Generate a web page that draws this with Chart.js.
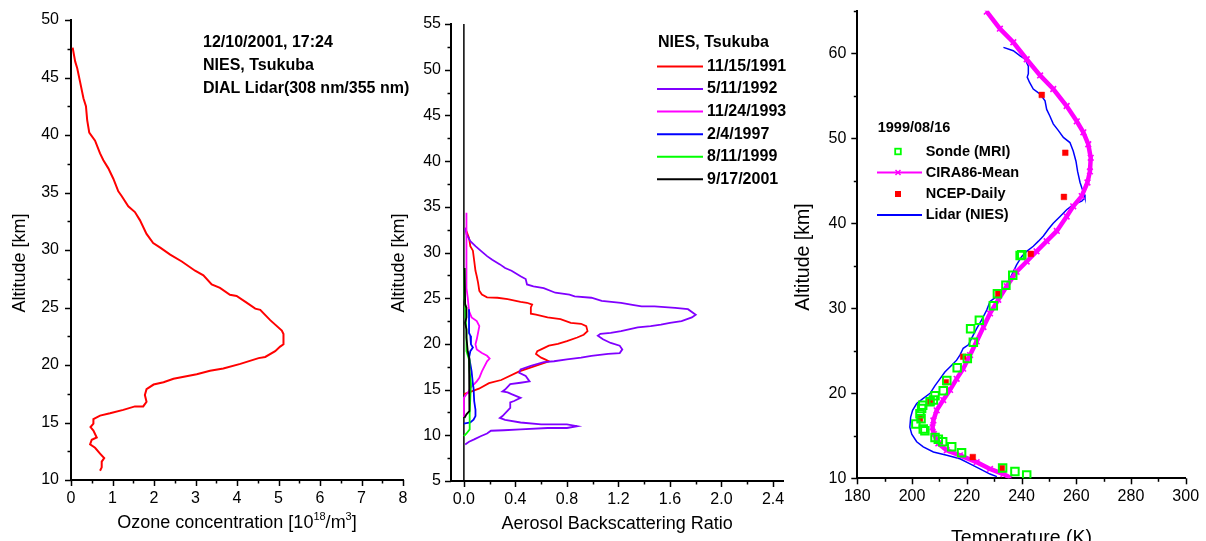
<!DOCTYPE html>
<html><head><meta charset="utf-8">
<script src="https://cdn.jsdelivr.net/npm/chart.js@4.4.1/dist/chart.umd.min.js"></script>
<style>
html,body{margin:0;padding:0;background:#fff;width:1206px;height:541px;overflow:hidden;position:relative}
canvas{position:absolute;top:0}
</style></head><body>
<canvas id="c1" width="425" height="541" style="left:0px"></canvas>
<canvas id="c2" width="420" height="541" style="left:380px"></canvas>
<canvas id="c3" width="426" height="541" style="left:780px"></canvas>
<script>
// ---------------- Panel 1: ozone ----------------
const ozoneConc = [0.04,0.10,0.15,0.22,0.30,0.36,0.39,0.44,0.58,0.70,0.78,0.90,1.02,1.14,1.22,1.38,1.54,1.66,1.82,1.98,2.15,2.39,2.67,2.99,3.19,3.39,3.59,3.83,3.99,4.24,4.44,4.56,4.80,5.08,5.12,5.12,5.04,4.92,4.68,4.52,4.08,3.67,3.35,3.03,2.47,2.23,1.99,1.82,1.78,1.82,1.74,1.54,1.26,0.94,0.70,0.54,0.54,0.47,0.54,0.62,0.50,0.46,0.58,0.70,0.80,0.74,0.74,0.70];
const ozoneAlt = [47.6,46.4,45.8,44.6,43.2,42.5,41.3,40.2,39.5,38.4,37.8,37.1,36.2,35.1,34.7,33.8,33.3,32.6,31.4,30.6,30.2,29.6,29.0,28.2,27.8,27.0,26.7,26.1,26.0,25.4,24.9,24.8,23.9,23.0,22.7,21.8,21.6,21.2,20.7,20.6,20.1,19.7,19.5,19.2,18.8,18.5,18.3,17.9,17.4,16.8,16.4,16.4,16.1,15.8,15.6,15.3,14.9,14.6,14.3,13.7,13.5,13.1,12.8,12.3,11.9,11.6,11.1,10.8];
const ozoneXTicks = [0,1,2,3,4,5,6,7,8];
const ozoneYTicks = [10,15,20,25,30,35,40,45,50];
const ozoneNotes = ['12/10/2001, 17:24','NIES, Tsukuba','DIAL Lidar(308 nm/355 nm)'];

// ---------------- Panel 2: aerosol ----------------
const aeroLabels = ['11/15/1991','5/11/1992','11/24/1993','2/4/1997','8/11/1999','9/17/2001'];
const aeroColors = ['#ff0000','#8000ff','#ff00ff','#0000ff','#00ff00','#000000'];
const red1991X = [0.01,0.04,0.05,0.07,0.08,0.09,0.10,0.11,0.12,0.14,0.18,0.26,0.34,0.44,0.49,0.53,0.52,0.52,0.56,0.65,0.75,0.83,0.91,0.95,0.96,0.93,0.88,0.80,0.73,0.66,0.60,0.57,0.56,0.60,0.63,0.66,0.43,0.29,0.195,0.117,0.04,0.0];
const red1991Alt = [32.7,31.6,30.7,30.2,29.1,28.0,27.4,26.7,25.8,25.4,25.1,25.05,24.9,24.6,24.5,24.3,24.0,23.3,23.2,22.9,22.7,22.3,22.2,21.95,21.4,21.0,20.7,20.3,20.0,19.8,19.4,19.2,18.9,18.5,18.3,18.1,17.0,16.05,15.7,15.1,14.7,14.5];
const pur1992X = [0.01,0.02,0.05,0.09,0.13,0.18,0.22,0.28,0.32,0.37,0.44,0.48,0.49,0.54,0.62,0.71,0.82,0.86,0.99,1.07,1.22,1.32,1.38,1.48,1.64,1.74,1.80,1.77,1.69,1.60,1.53,1.45,1.35,1.22,1.14,1.06,1.04,1.08,1.14,1.21,1.23,1.21,1.12,0.99,0.91,0.80,0.70,0.62,0.52,0.44,0.43,0.48,0.51,0.44,0.36,0.32,0.30,0.34,0.37,0.44,0.39,0.36,0.36,0.34,0.30,0.28,0.32,0.44,0.60,0.80,0.88,0.80,0.65,0.44,0.31,0.21,0.18,0.13,0.08,0.04,0.01];
const pur1992Alt = [32.7,32.0,31.25,30.7,30.2,29.6,29.2,28.7,28.3,28.0,27.4,27.1,26.5,26.3,26.1,25.6,25.4,25.2,25.05,24.7,24.5,24.25,24.1,24.1,23.95,23.8,23.2,22.9,22.5,22.3,22.1,21.95,21.8,21.4,21.2,21.1,20.9,20.5,20.1,19.8,19.4,19.0,18.9,18.7,18.5,18.3,18.1,18.0,17.6,17.2,16.85,16.5,15.9,15.75,15.6,15.0,14.8,14.7,14.5,14.1,13.75,13.6,13.0,12.7,12.1,11.9,11.7,11.4,11.2,11.2,11.0,10.8,10.8,10.65,10.55,10.5,10.2,9.9,9.55,9.3,9.0];
const mag1993X = [0.02,0.02,0.02,0.02,0.02,0.03,0.04,0.06,0.10,0.12,0.11,0.10,0.09,0.10,0.14,0.18,0.20,0.18,0.14,0.12,0.10,0.08,0.05,0.04,0.02,0.0,0.0];
const mag1993Alt = [34.35,32.7,30.2,27.2,26.1,25.05,23.6,22.9,22.5,21.95,21.2,20.5,19.95,19.4,19.0,18.7,18.4,18.1,17.0,16.3,15.9,15.6,15.2,14.85,14.5,14.1,12.0];
const blue1997X = [0.04,0.04,0.04,0.05,0.055,0.07,0.05,0.04,0.05,0.06,0.07,0.075,0.08,0.09,0.09,0.075,0.05,0.01,0.0];
const blue1997Alt = [23.8,22.1,21.2,20.9,19.95,19.6,19.2,18.5,17.8,17.0,15.6,15.2,13.75,12.8,12.1,11.7,11.4,11.3,11.3];
const green1999X = [0.005,0.005,0.01,0.013,0.02,0.02,0.04,0.044,0.055,0.05,0.045,0.045,0.02,0.0];
const green1999Alt = [28.3,25.0,24.3,22.9,21.4,19.2,18.3,17.0,15.6,14.1,12.3,10.65,10.2,9.9];
const black2001X = [0.005,0.01,0.02,0.02,0.01,0.02,0.02,0.03,0.04,0.044,0.044,0.04,0.02,0.005];
const black2001Alt = [28.3,24.3,23.95,22.9,22.3,21.6,20.7,19.2,18.5,16.3,13.4,12.65,12.3,11.9];
const zeroLineX = [0,0];
const zeroLineAlt = [5,55];
const aeroXTicks = [0.0,0.4,0.8,1.2,1.6,2.0,2.4];
const aeroYTicks = [5,10,15,20,25,30,35,40,45,50,55];

// ---------------- Panel 3: temperature ----------------
const ciraT = [227.3,232.1,237.0,241.9,246.8,251.6,256.5,260.2,262.6,264.4,265.3,265.0,264.1,262.0,258.9,256.5,252.9,249.2,245.5,241.9,238.2,234.6,231.5,228.5,226.1,223.6,221.2,218.7,216.3,213.9,211.4,209.0,207.8,207.5,208.0,209.6,212.7,217.5,223.6,228.5,233.4,235.8];
const ciraAlt = [64.9,62.9,61.3,59.3,57.4,55.8,53.8,52.0,50.7,49.3,47.7,46.1,44.8,43.2,42.0,40.8,39.1,37.9,36.7,35.5,34.3,32.6,31.0,29.4,27.8,26.1,24.5,22.9,21.7,20.4,19.2,18.0,16.8,16.0,15.2,14.1,13.3,12.7,11.9,11.1,10.5,10.1];
const lidarT = [233.4,237.0,239.5,241.3,242.5,242.5,242.1,242.9,244.3,246.8,248.6,249.2,250.4,251.6,253.5,255.3,257.7,258.9,259.9,260.5,261.4,262.0,262.9,263.2,262.0,258.9,256.5,254.1,251.6,249.8,248.0,246.2,244.3,241.9,240.1,238.2,235.8,233.4,231.0,228.5,227.3,225.4,223.6,221.8,220.6,218.7,217.5,216.3,214.5,212.0,210.2,208.4,206.6,204.1,201.7,200.2,199.5,199.2,199.9,201.7,204.1,207.8,212.7,217.5,221.2,224.8,228.5,231.0];
const lidarAlt = [60.7,60.3,59.7,59.3,58.5,57.6,57.2,56.6,55.8,55.2,54.4,53.4,52.6,51.7,50.9,50.1,49.5,48.5,47.3,46.1,44.8,44.2,43.4,43.0,42.6,42.2,41.6,40.8,40.0,39.3,38.5,37.9,37.3,36.7,36.1,35.1,33.5,32.2,31.4,30.8,29.8,28.6,27.6,26.5,25.7,25.3,24.5,23.9,23.3,22.5,21.7,20.9,20.0,19.4,18.8,18.0,17.2,16.0,15.2,14.3,13.7,13.1,12.7,12.3,11.7,11.1,10.5,10.2];
const sondeT = [240.1,239.5,236.8,234.3,231.2,229.7,224.6,221.4,222.4,220.2,216.5,212.7,211.4,208.4,207.8,206.6,203.9,203.5,202.9,203.3,201.4,204.1,204.7,208.4,209.6,211.2,214.5,218.1,233.1,237.6,241.9];
const sondeAlt = [36.3,36.2,33.9,32.7,31.7,30.3,28.6,27.6,26.0,24.1,23.0,21.5,20.3,19.7,19.2,19.0,18.6,18.2,17.6,17.0,16.4,15.8,15.6,14.8,14.6,14.3,13.7,13.0,11.2,10.8,10.4];
const ncepT = [247.4,256.0,255.5,243.4,231.5,218.7,212.3,206.6,202.9,222.2,232.8];
const ncepAlt = [55.1,48.3,43.1,36.4,31.7,24.3,21.3,19.0,17.0,12.5,11.2];
const tempXTicks = [180,200,220,240,260,280,300];
const tempYTicks = [10,20,30,40,50,60];
const tempLabels = ['Sonde (MRI)','CIRA86-Mean','NCEP-Daily','Lidar (NIES)'];
const tempDate = '1999/08/16';

// ---------------- helpers ----------------
const FONT = '"Liberation Sans", Arial, Helvetica, sans-serif';
Chart.defaults.font.family = FONT;
Chart.defaults.color = '#000';
const zip = (xs, ys) => xs.map((x, i) => ({x: x, y: ys[i]}));

function lineDs(label, xs, ys, color, width, order) {
  return {label, data: zip(xs, ys), showLine: true, borderColor: color, backgroundColor: color,
    borderWidth: width, pointRadius: 0, tension: 0, fill: false, order: order};
}

function axisScale(min, max, ticks, fmt, pad, fitFn) {
  return {
    type: 'linear', min: min, max: max,
    grid: {display: false, drawTicks: false, tickLength: 0},
    border: {display: true, color: '#000', width: 2},
    ticks: {font: {family: FONT, size: 16}, color: '#000', padding: pad, autoSkip: false,
      maxRotation: 0, minRotation: 0, callback: fmt},
    afterBuildTicks: s => { s.ticks = ticks.map(v => ({value: v})); },
    afterFit: s => { fitFn(s); s.paddingTop = 0; s.paddingBottom = 0; s.paddingLeft = 0; s.paddingRight = 0; }
  };
}

function drawTicks(chart, xMinorStep, yMinorStep, xMajor, yMajor) {
  const ctx = chart.ctx, a = chart.chartArea, xs = chart.scales.x, ys = chart.scales.y;
  ctx.save();
  ctx.strokeStyle = '#000'; ctx.lineWidth = 1.5;
  const isMaj = (v, arr) => arr.some(m => Math.abs(m - v) < 1e-6);
  let v0 = Math.ceil(xs.min / xMinorStep - 1e-9);
  for (let k = v0; k * xMinorStep <= xs.max + 1e-9; k++) {
    const v = k * xMinorStep, px = Math.round(xs.getPixelForValue(v)) + 0.5;
    const L = isMaj(v, xMajor) ? 6 : 3.5;
    ctx.beginPath(); ctx.moveTo(px, a.bottom); ctx.lineTo(px, a.bottom + L); ctx.stroke();
  }
  v0 = Math.ceil(ys.min / yMinorStep - 1e-9);
  for (let k = v0; k * yMinorStep <= ys.max + 1e-9; k++) {
    const v = k * yMinorStep, py = Math.round(ys.getPixelForValue(v)) + 0.5;
    const L = isMaj(v, yMajor) ? 6 : 3.5;
    ctx.beginPath(); ctx.moveTo(a.left, py); ctx.lineTo(a.left - L, py); ctx.stroke();
  }
  ctx.restore();
}

function vText(ctx, text, x, y, size) {
  ctx.save();
  ctx.translate(x, y); ctx.rotate(-Math.PI / 2);
  ctx.font = size + 'px ' + FONT; ctx.fillStyle = '#000';
  ctx.textAlign = 'center'; ctx.textBaseline = 'middle';
  ctx.fillText(text, 0, 0);
  ctx.restore();
}
function hText(ctx, text, x, y, font, align, base) {
  ctx.save();
  ctx.font = font; ctx.fillStyle = '#000';
  ctx.textAlign = align || 'left'; ctx.textBaseline = base || 'middle';
  ctx.fillText(text, x, y);
  ctx.restore();
}

// ---------------- Chart 1 ----------------
new Chart(document.getElementById('c1'), {
  type: 'scatter',
  data: {datasets: [lineDs('Ozone', ozoneConc, ozoneAlt, '#ff0000', 2, 0)]},
  options: {
    responsive: false, animation: false, events: [],
    layout: {padding: {left: 0, top: 20, right: 22, bottom: 0}},
    plugins: {legend: {display: false}, tooltip: {enabled: false}},
    scales: {
      x: axisScale(0, 8, ozoneXTicks, v => String(v), 9, s => { s.height = 61; }),
      y: axisScale(10, 50, ozoneYTicks, v => String(v), 12, s => { s.width = 71; })
    }
  },
  plugins: [{
    id: 'deco1',
    afterDraw(chart) {
      const ctx = chart.ctx;
      drawTicks(chart, 0.5, 2.5, ozoneXTicks, ozoneYTicks);
      vText(ctx, 'Altitude [km]', 20, 263, 18);
      const big = '18px ' + FONT, small = '11px ' + FONT;
      const parts = [['Ozone concentration [10', big, 0], ['18', small, -8], ['/m', big, 0], ['3', small, -8], [']', big, 0]];
      ctx.save();
      let total = 0;
      parts.forEach(p => { ctx.font = p[1]; total += ctx.measureText(p[0]).width; });
      const a = chart.chartArea;
      let x = (a.left + a.right) / 2 - total / 2;
      const base = 527.5;
      ctx.fillStyle = '#000'; ctx.textBaseline = 'alphabetic'; ctx.textAlign = 'left';
      parts.forEach(p => { ctx.font = p[1]; ctx.fillText(p[0], x, base + p[2]); x += ctx.measureText(p[0]).width; });
      ctx.restore();
      const noteY = [43, 65.5, 88.5];
      ozoneNotes.forEach((t, i) => hText(ctx, t, 203, noteY[i], 'bold 16px ' + FONT));
    }
  }]
});

// ---------------- Chart 2 ----------------
const aeroX = [red1991X, pur1992X, mag1993X, blue1997X, green1999X, black2001X];
const aeroAlt = [red1991Alt, pur1992Alt, mag1993Alt, blue1997Alt, green1999Alt, black2001Alt];
const aeroDs = aeroLabels.map((lab, i) => lineDs(lab, aeroX[i], aeroAlt[i], aeroColors[i], 1.8, 6 - i));
aeroDs.push(lineDs('zero', zeroLineX, zeroLineAlt, '#000000', 1.5, 10));
new Chart(document.getElementById('c2'), {
  type: 'scatter',
  data: {datasets: aeroDs},
  options: {
    responsive: false, animation: false, events: [],
    layout: {padding: {left: 0, top: 24, right: 16.7, bottom: 0}},
    plugins: {legend: {display: false}, tooltip: {enabled: false}},
    scales: {
      x: axisScale(-0.1, 2.48, aeroXTicks, v => v.toFixed(1), 9, s => { s.height = 60; }),
      y: axisScale(5, 55, aeroYTicks, v => String(v), 10, s => { s.width = 71; })
    }
  },
  plugins: [{
    id: 'deco2',
    afterDraw(chart) {
      const ctx = chart.ctx;
      drawTicks(chart, 0.2, 2.5, aeroXTicks, aeroYTicks);
      vText(ctx, 'Altitude [km]', 19, 263, 18);
      const a = chart.chartArea;
      hText(ctx, 'Aerosol Backscattering Ratio', (a.left + a.right) / 2, 528.5, '18px ' + FONT, 'center', 'alphabetic');
      hText(ctx, 'NIES, Tsukuba', 278, 43, 'bold 16px ' + FONT);
      const ly = [66.6, 89, 111.5, 134.3, 156.8, 179.3];
      aeroLabels.forEach((lab, i) => {
        ctx.save();
        ctx.strokeStyle = aeroColors[i]; ctx.lineWidth = 2;
        ctx.beginPath(); ctx.moveTo(277, ly[i]); ctx.lineTo(323, ly[i]); ctx.stroke();
        ctx.restore();
        hText(ctx, lab, 327, ly[i], 'bold 16px ' + FONT);
      });
    }
  }]
});

// ---------------- Chart 3 ----------------
new Chart(document.getElementById('c3'), {
  type: 'scatter',
  data: {datasets: [
    {label: tempLabels[0], data: zip(sondeT, sondeAlt), showLine: false, pointStyle: 'rect', pointRadius: 5.3,
     borderColor: '#00ff00', backgroundColor: 'rgba(255,255,255,0)', borderWidth: 2, order: 0},
    {label: tempLabels[1], data: zip(ciraT, ciraAlt), showLine: true, borderColor: '#ff00ff', backgroundColor: '#ff00ff',
     borderWidth: 4.5, pointStyle: 'crossRot', pointRadius: 4, pointBorderWidth: 1.6, tension: 0, order: 2},
    {label: tempLabels[2], data: zip(ncepT, ncepAlt), showLine: false, pointStyle: 'rect', pointRadius: 4,
     borderColor: '#ff0000', backgroundColor: '#ff0000', borderWidth: 0.5, order: 1},
    lineDs(tempLabels[3], lidarT, lidarAlt, '#0000ff', 1.5, 3)
  ]},
  options: {
    responsive: false, animation: false, events: [],
    layout: {padding: {left: 0, top: 10.8, right: 20.3, bottom: 0}},
    plugins: {legend: {display: false}, tooltip: {enabled: false}},
    scales: {
      x: axisScale(180, 300, tempXTicks, v => String(v), 9, s => { s.height = 62.7; }),
      y: axisScale(10, 65, tempYTicks, v => String(v), 11, s => { s.width = 77.3; })
    }
  },
  plugins: [{
    id: 'deco3',
    afterDraw(chart) {
      const ctx = chart.ctx;
      drawTicks(chart, 10, 5, tempXTicks, tempYTicks);
      vText(ctx, 'Altitude [km]', 24, 257, 19.5);
      const a = chart.chartArea;
      hText(ctx, 'Temperature (K)', (a.left + a.right) / 2, 544, '19.5px ' + FONT, 'center', 'alphabetic');
      hText(ctx, tempDate, 97.7, 128, 'bold 14.5px ' + FONT);
      const ly = [151.5, 172.5, 194, 215];
      const tx = 145.7;
      ctx.save();
      ctx.strokeStyle = '#00ff00'; ctx.lineWidth = 1.8;
      ctx.strokeRect(118 - 2.8, ly[0] - 2.8, 5.6, 5.6);
      ctx.strokeStyle = '#ff00ff'; ctx.lineWidth = 2;
      ctx.beginPath(); ctx.moveTo(97, ly[1]); ctx.lineTo(142, ly[1]); ctx.stroke();
      ctx.lineWidth = 1.5;
      ctx.beginPath(); ctx.moveTo(115.5, ly[1] - 2.5); ctx.lineTo(120.5, ly[1] + 2.5);
      ctx.moveTo(120.5, ly[1] - 2.5); ctx.lineTo(115.5, ly[1] + 2.5); ctx.stroke();
      ctx.fillStyle = '#ff0000';
      ctx.fillRect(118 - 3, ly[2] - 3, 6, 6);
      ctx.strokeStyle = '#0000ff'; ctx.lineWidth = 2;
      ctx.beginPath(); ctx.moveTo(97, ly[3]); ctx.lineTo(142, ly[3]); ctx.stroke();
      ctx.restore();
      tempLabels.forEach((lab, i) => hText(ctx, lab, tx, ly[i], 'bold 14.5px ' + FONT));
    }
  }]
});
</script>
</body></html>
